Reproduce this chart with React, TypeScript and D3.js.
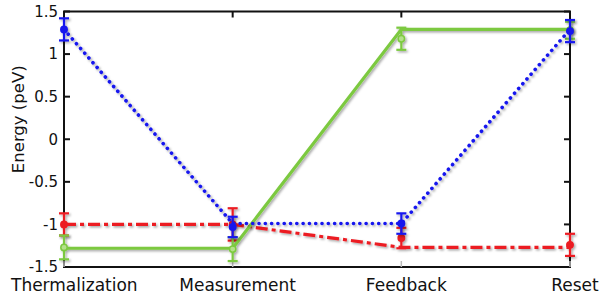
import React from 'react';
import * as d3 from 'd3';

// chart values
const categories = ['Thermalization', 'Measurement', 'Feedback', 'Reset'];
const yTicks = [-1.5, -1, -0.5, 0, 0.5, 1, 1.5];

const blueLine = [1.29, -0.99, -0.99, 1.29];
const blueMean = [1.29, -1.03, -0.99, 1.27];
const blueErr = [0.13, 0.12, 0.12, 0.13];

const redLine = [-1.0, -1.0, -1.27, -1.27];
const redMean = [-1.0, -1.0, -1.16, -1.24];
const redErr = [0.13, 0.19, 0.12, 0.13];

const greenLine = [-1.28, -1.28, 1.29, 1.29];
const greenMean = [-1.27, -1.29, 1.18, 1.28];
const greenErr = [0.14, 0.14, 0.13, 0.1];

const W = 600, H = 297;
const margin = { top: 11.5, right: 30, bottom: 30, left: 64 };

const x = d3.scaleLinear().domain([0, categories.length - 1]).range([margin.left, W - margin.right]);
const y = d3.scaleLinear().domain([-1.5, 1.5]).range([H - margin.bottom, margin.top]);

const lineGen = d3.line<number>().x((_, i) => x(i)).y(d => y(d));

const series = [
    { name: 'red', color: '#ec1c24', line: redLine, mean: redMean, err: redErr, dash: '12 4 4 4', cap: 'butt', width: 3.2, fill: '#ec1c24' },
    { name: 'green', color: '#7cc93f', line: greenLine, mean: greenMean, err: greenErr, dash: null, cap: 'butt', width: 3.2, fill: '#b4e08a' },
    { name: 'blue', color: '#1717ee', line: blueLine, mean: blueMean, err: blueErr, dash: '0.1 6.2', cap: 'round', width: 3.6, fill: '#1717ee' },
];

const App = () => {
    const x0 = x.range()[0], x1 = x.range()[1];
    const y0 = y.range()[1], y1 = y.range()[0];
    const font = 'DejaVu Sans, sans-serif';

    return (
        <div>
            <style>{`body{margin:0}`}</style>
            <svg width={W} height={H} style={{ display: 'block', background: '#fff' }}>
                <defs>
                    <filter id="shadow" x="-20%" y="-20%" width="140%" height="140%">
                        <feDropShadow dx="1.5" dy="1.5" stdDeviation="1.2" floodColor="#000" floodOpacity="0.35" />
                    </filter>
                </defs>

                {/* frame */}
                <rect x={x0} y={y0} width={x1 - x0} height={y1 - y0} fill="none" stroke="#111" strokeWidth={2} />

                {/* y ticks, both sides pointing in */}
                {yTicks.map(t => (
                    <g key={t}>
                        <line x1={x0} x2={x0 + 6} y1={y(t)} y2={y(t)} stroke="#111" strokeWidth={2} />
                        <line x1={x1} x2={x1 - 6} y1={y(t)} y2={y(t)} stroke="#111" strokeWidth={2} />
                        <text x={x0 - 6} y={y(t)} dy="0.35em" textAnchor="end" fontFamily={font} fontSize={15} fill="#111">
                            {t}
                        </text>
                    </g>
                ))}

                {/* x ticks top and bottom */}
                {categories.map((c, i) => (
                    <g key={c}>
                        <line x1={x(i)} x2={x(i)} y1={y0} y2={y0 + 6} stroke="#111" strokeWidth={2} />
                        <line x1={x(i)} x2={x(i)} y1={y1} y2={y1 - 6} stroke="#bbb" strokeWidth={1.5} />
                        <text
                            x={i === 0 ? x(i) - 53 : x(i) + 5}
                            y={H - 6}
                            textAnchor={i === 0 ? 'start' : 'middle'}
                            fontFamily={font}
                            fontSize={17}
                            fill="#111"
                        >
                            {c}
                        </text>
                    </g>
                ))}

                <text
                    transform={`translate(18,${(y0 + y1) / 2 - 20}) rotate(-90)`}
                    textAnchor="middle"
                    dy="0.35em"
                    fontFamily={font}
                    fontSize={16.5}
                    fill="#111"
                >
                    Energy (peV)
                </text>

                {series.map(s => (
                    <g key={s.name} filter="url(#shadow)">
                        <path
                            d={lineGen(s.line) || ''}
                            fill="none"
                            stroke={s.color}
                            strokeWidth={s.width}
                            strokeDasharray={s.dash || undefined}
                            strokeLinecap={s.cap as any}
                        />
                        {s.mean.map((m, i) => (
                            <g key={i} stroke={s.color} strokeWidth={2.2}>
                                <line x1={x(i)} x2={x(i)} y1={y(m + s.err[i])} y2={y(m - s.err[i])} />
                                <line x1={x(i) - 5} x2={x(i) + 5} y1={y(m + s.err[i])} y2={y(m + s.err[i])} />
                                <line x1={x(i) - 5} x2={x(i) + 5} y1={y(m - s.err[i])} y2={y(m - s.err[i])} />
                                <circle cx={x(i)} cy={y(m)} r={3.2} fill={s.fill} strokeWidth={1.5} />
                            </g>
                        ))}
                    </g>
                ))}
            </svg>
        </div>
    );
};

export default App;
